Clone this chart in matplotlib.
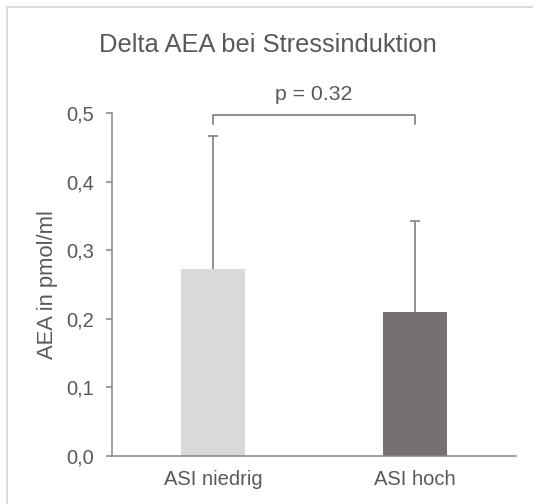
import matplotlib
matplotlib.use("Agg")
import matplotlib.pyplot as plt
from matplotlib.lines import Line2D

categories = ["ASI niedrig", "ASI hoch"]
means = [0.272, 0.210]
errors_up = [0.195, 0.133]
y_ticks = [0.0, 0.1, 0.2, 0.3, 0.4, 0.5]
y_tick_labels = ["0,0", "0,1", "0,2", "0,3", "0,4", "0,5"]
bar_colors = ["#d9d9d9", "#767171"]
title = "Delta AEA bei Stressinduktion"
ylabel = "AEA in pmol/ml"
p_text = "p = 0.32"
bracket_y = 0.497
bracket_drop = 0.013

plt.rcParams['font.family'] = ['Liberation Sans', 'DejaVu Sans']
txt = "#595959"

fig = plt.figure(figsize=(5.33, 5.04), dpi=100)
ax = fig.add_axes([112/533, 1-455.7/504, (516-112)/533, (455.7-113.3)/504])

x = list(range(len(categories)))
ax.bar(x, means, width=0.316, color=bar_colors, zorder=2)
ax.errorbar(x, means, yerr=[[0]*len(means), errors_up], fmt='none',
            ecolor="#7f7f7f", elinewidth=1.2, capsize=0, zorder=3)
tops = [m + e for m, e in zip(means, errors_up)]
ax.plot(x, tops, linestyle='none', marker='_', markersize=7, markeredgewidth=1.2,
        color="#7f7f7f", zorder=3)

ax.set_xlim(-0.5, 1.5)
ax.set_ylim(0, 0.5)
ax.set_yticks(y_ticks)
ax.set_yticklabels(y_tick_labels)
ax.set_xticks(x)
ax.set_xticklabels(categories)

for s in ["top", "right"]:
    ax.spines[s].set_visible(False)
ax.spines["left"].set_color("#868686")
ax.spines["bottom"].set_color("#868686")
ax.spines["left"].set_linewidth(1.1)
ax.spines["bottom"].set_linewidth(1.1)
ax.tick_params(axis='y', colors="#868686", labelcolor=txt, labelsize=14.5, length=4, width=1.1, pad=9)
ax.tick_params(axis='x', length=0, labelcolor=txt, labelsize=14.5, pad=10)
ax.set_ylabel(ylabel, color=txt, fontsize=15.8, labelpad=6)

# significance bracket
ax.plot([x[0], x[0], x[1], x[1]],
        [bracket_y - bracket_drop, bracket_y, bracket_y, bracket_y - bracket_drop],
        color="#6f6f6f", lw=1.1, clip_on=False, zorder=4)
ax.text((x[0]+x[1])/2, bracket_y + 0.017, p_text, ha='center', va='bottom',
        fontsize=15.3, color=txt, clip_on=False)

fig.text(268/533, 1-45/504, title, ha='center', va='center', fontsize=18.4, color=txt)

# frame border (top and left visible)
fig.add_artist(Line2D([7/533, 1], [1-7/504, 1-7/504], color="#d9d9d9", lw=1.3, transform=fig.transFigure))
fig.add_artist(Line2D([7/533, 7/533], [0, 1-7/504], color="#d9d9d9", lw=1.3, transform=fig.transFigure))

fig.savefig("out.png", dpi=100)
